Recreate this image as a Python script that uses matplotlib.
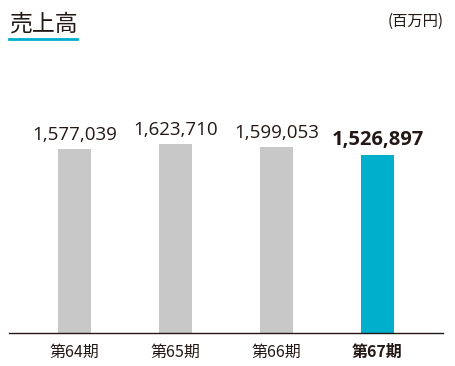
import matplotlib
matplotlib.use("Agg")
import matplotlib.pyplot as plt

plt.rcParams['font.family'] = ['Noto Sans CJK JP', 'DejaVu Sans']

# data (百万円)
periods = ["第64期", "第65期", "第66期", "第67期"]
sales = [1577039, 1623710, 1599053, 1526897]
highlight = 3

GRAY = "#c8c8c8"
TEAL = "#00afcc"
INK = "#231815"

W, H = 456, 366
fig = plt.figure(figsize=(W / 100, H / 100), dpi=100)

# axes placed in pixel terms: left 9, right 443, baseline y=333, top y=60
ax = fig.add_axes([9 / W, (H - 333) / H, 434 / W, 273 / H])
x = list(range(len(periods)))
colors = [TEAL if i == highlight else GRAY for i in x]
ax.bar(x, sales, width=0.327, color=colors, zorder=2)
ax.set_xlim(-0.6485, 3.648)
ax.set_ylim(0, 2342000)

for s in ["top", "right", "left"]:
    ax.spines[s].set_visible(False)
ax.spines["bottom"].set_color(INK)
ax.spines["bottom"].set_linewidth(1.0)
ax.set_yticks([])
ax.set_xticks(x)
ax.set_xticklabels(periods, fontsize=11.5, color=INK)
ax.tick_params(axis="x", length=0, pad=8)
for i, lbl in enumerate(ax.get_xticklabels()):
    if i == highlight:
        lbl.set_fontweight("bold")

for i, v in enumerate(sales):
    hl = i == highlight
    ax.annotate(f"{v:,}", (i, v), xytext=(0, 3.5), textcoords="offset points",
                ha="center", va="bottom", fontsize=14.5 if hl else 13.5, color=INK,
                family=["Open Sans", "DejaVu Sans"],
                fontweight="bold" if hl else "normal")

# title with teal underline
fig.text(10 / W, 1 - 31 / H, "売上高", fontsize=16.5, color=INK, ha="left", va="baseline")
fig.add_artist(plt.Line2D([9 / W, 77 / W], [1 - 38.5 / H] * 2, color=TEAL, lw=2))
fig.text(444 / W, 1 - 26 / H, "(百万円)", fontsize=11, color=INK, ha="right", va="baseline")

fig.savefig("out.png", dpi=100)
